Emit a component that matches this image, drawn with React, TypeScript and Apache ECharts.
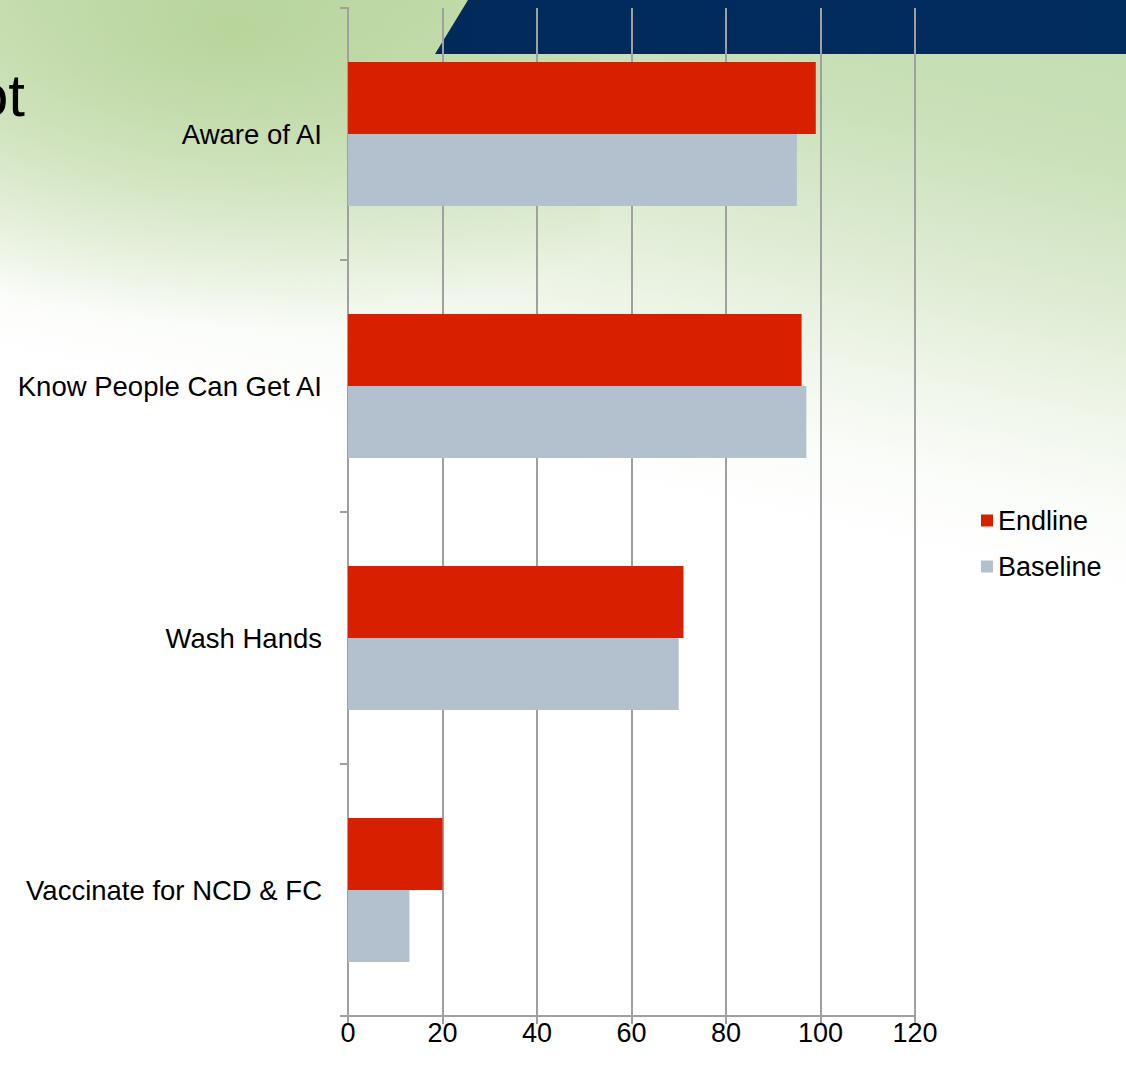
import React, { useEffect, useRef } from "react";
import * as echarts from "echarts";

const categories = ["Aware of AI", "Know People Can Get AI", "Wash Hands", "Vaccinate for NCD & FC"];
const endline = [99, 96, 71, 20];
const baseline = [95, 97, 70, 13];
const seriesNames = ["Endline", "Baseline"];
const xTicks = { min: 0, max: 120, interval: 20 };

export default function App() {
  const ref = useRef<HTMLDivElement>(null);
  useEffect(() => {
    document.body.style.margin = "0";
    const chart = echarts.init(ref.current!, null, { renderer: "svg" });
    const font = "'Liberation Sans', Arial, sans-serif";
    chart.setOption({
      animation: false,
      backgroundColor: "transparent",
      textStyle: { fontFamily: font },
      graphic: [
        {
          type: "text",
          x: -25,
          y: 125,
          style: {
            text: "ot",
            fontSize: 60,
            fill: "#000",
            fontFamily: font,
            textVerticalAlign: "bottom",
            verticalAlign: "alphabetic",
          },
        },
      ],
      legend: {
        orient: "vertical",
        left: 981,
        top: 507,
        padding: 0,
        itemWidth: 12,
        itemHeight: 12,
        itemGap: 19,
        icon: "rect",
        data: seriesNames,
        textStyle: { fontSize: 27, color: "#000", fontFamily: font },
      },
      grid: { left: 348, right: 211, top: 8, bottom: 55, containLabel: false },
      xAxis: {
        type: "value",
        min: xTicks.min,
        max: xTicks.max,
        interval: xTicks.interval,
        axisLine: { show: true, lineStyle: { color: "#a0a0a0", width: 2 } },
        axisTick: { show: true, length: 8, lineStyle: { color: "#a0a0a0", width: 2 } },
        splitLine: { show: true, lineStyle: { color: "#a0a0a0", width: 2 } },
        axisLabel: { fontSize: 27, color: "#000", margin: 3, fontFamily: font },
      },
      yAxis: {
        type: "category",
        data: categories,
        inverse: true,
        axisLine: { show: true, lineStyle: { color: "#a0a0a0", width: 2 } },
        axisTick: { show: true, length: 8, lineStyle: { color: "#a0a0a0", width: 2 } },
        splitLine: { show: false },
        axisLabel: { fontSize: 27.5, color: "#000", margin: 26, fontFamily: font },
      },
      series: [
        {
          name: seriesNames[0],
          type: "bar",
          data: endline,
          barWidth: 72,
          barGap: "0%",
          itemStyle: { color: "#d81f00" },
        },
        {
          name: seriesNames[1],
          type: "bar",
          data: baseline,
          barWidth: 72,
          barGap: "0%",
          itemStyle: { color: "#b3c0cd" },
        },
      ],
    });
    return () => chart.dispose();
  }, []);

  return (
    <div
      style={{
        position: "relative",
        width: 1126,
        height: 1071,
        overflow: "hidden",
        background:
          "linear-gradient(192deg, #c4ddb1 0%, #c9e0b8 12%, #dfecd4 24%, #f1f7ec 33%, #fbfdfa 40%, #ffffff 46%)",
      }}
    >
      <div
        style={{
          position: "absolute",
          left: 0,
          top: 0,
          width: 600,
          height: 360,
          background:
            "radial-gradient(ellipse 560px 300px at 230px 30px, rgba(178,209,146,0.8) 0%, rgba(186,214,158,0.5) 50%, rgba(220,235,210,0) 100%)",
        }}
      />
      <div
        style={{
          position: "absolute",
          left: 0,
          top: 0,
          width: 1126,
          height: 56,
          background: "linear-gradient(90deg, #00214d 0%, #012a5a 30%, #012d5e 100%)",
          clipPath: "polygon(435px 54px, 468px 0px, 1126px 0px, 1126px 54px)",
        }}
      />
      <div ref={ref} style={{ position: "absolute", left: 0, top: 0, width: 1126, height: 1071 }} />
    </div>
  );
}
